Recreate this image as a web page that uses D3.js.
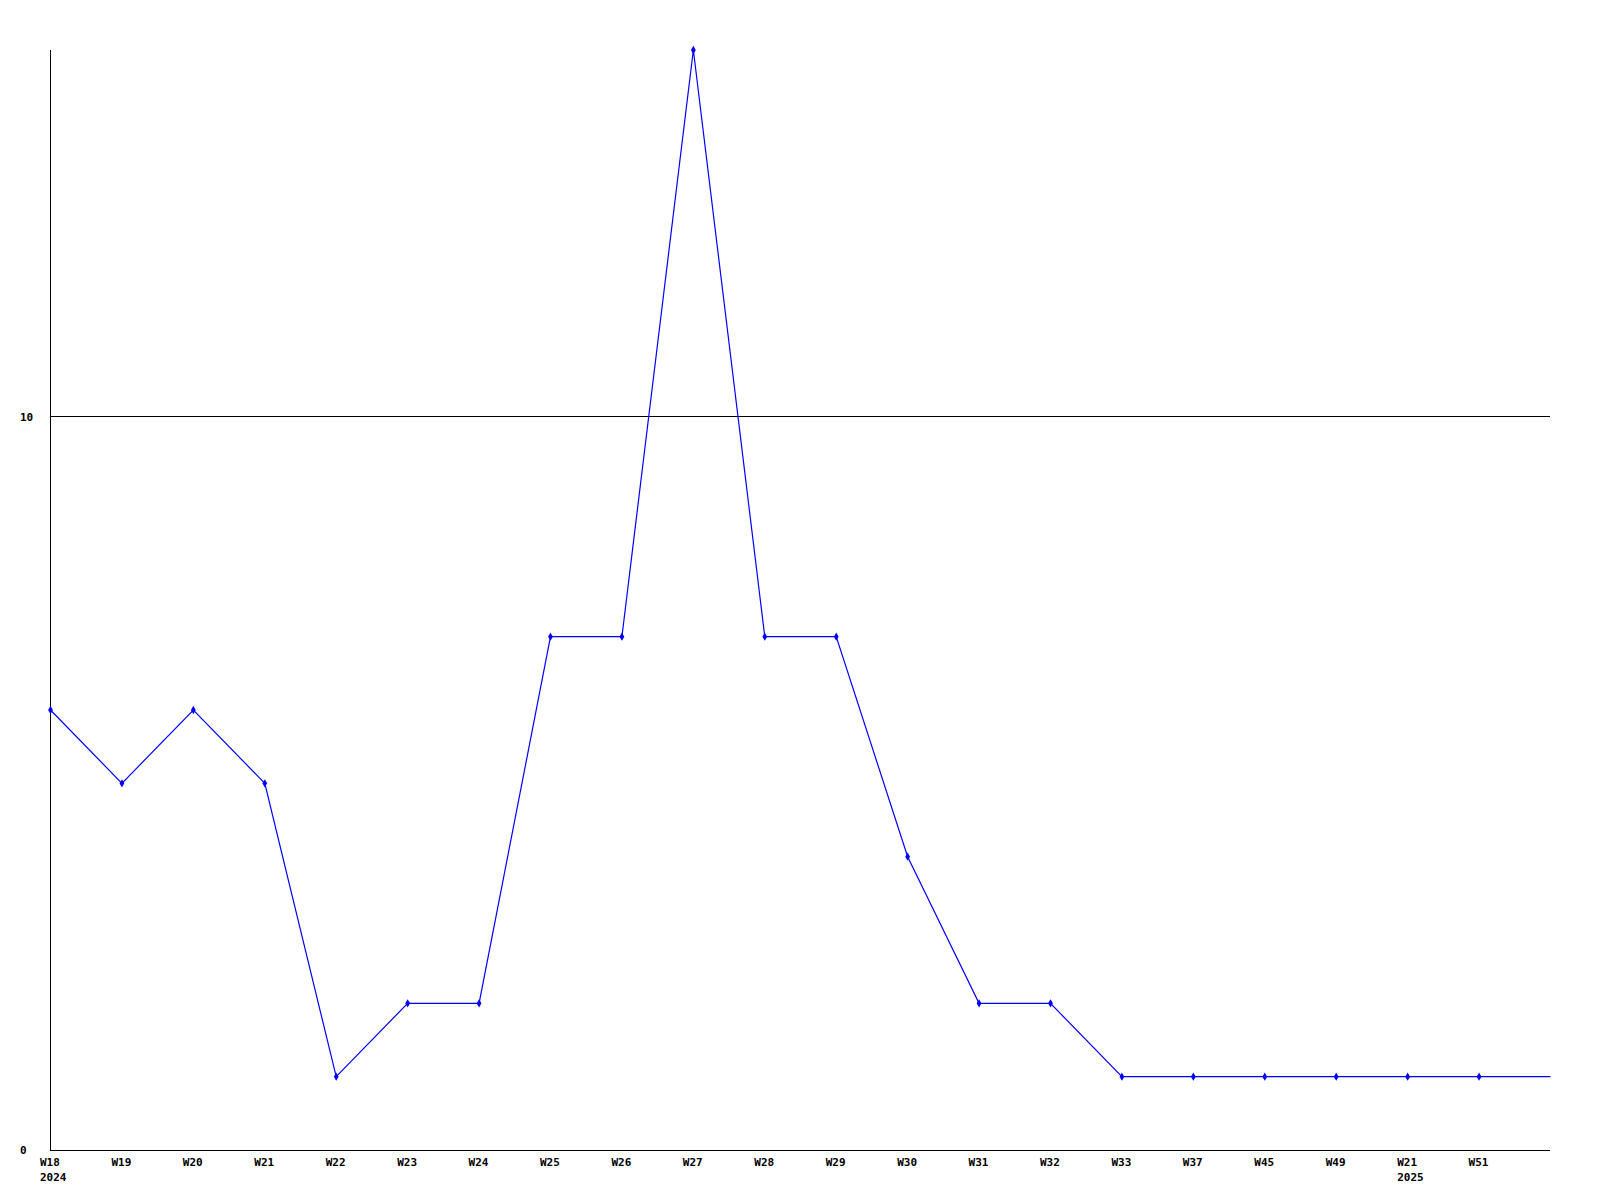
<!DOCTYPE html>
<html>
<head>
<meta charset="utf-8">
<script src="https://cdn.jsdelivr.net/npm/d3@7"></script>
<style>
  html, body { margin: 0; padding: 0; background: #fff; }
  svg { display: block; }
  text { font-family: "DejaVu Sans Mono", "Liberation Mono", monospace; font-weight: bold; font-size: 11px; fill: #000; }
</style>
</head>
<body>
<svg id="chart" width="1600" height="1200"></svg>
<script>
// Data
const weekLabels = ["W18","W19","W20","W21","W22","W23","W24","W25","W26","W27","W28","W29","W30","W31","W32","W33","W37","W45","W49","W21","W51"];
const yearLabels = ["2024","","","","","","","","","","","","","","","","","","","2025",""];
const values = [6,5,6,5,1,2,2,7,7,15,7,7,4,2,2,1,1,1,1,1,1];
const yTicks = [0, 10];

const svg = d3.select("#chart");
const mLeft = 50, mRight = 1550, mTop = 50, mBottom = 1150;

// 22 slots: the line continues to the right edge with the last value
const x = d3.scalePoint().domain(d3.range(values.length + 1)).range([mLeft, mRight]);
const y = d3.scaleLinear().domain([0, 15]).range([mBottom, mTop]);

// gridline at 10
svg.append("g").selectAll("line").data(yTicks.filter(d => d !== 0)).join("line")
  .attr("x1", mLeft).attr("x2", mRight)
  .attr("y1", d => Math.round(y(d)) - 0.5).attr("y2", d => Math.round(y(d)) - 0.5)
  .attr("stroke", "#000").attr("stroke-width", 1).attr("shape-rendering", "crispEdges");

// axes
svg.append("line").attr("x1", mLeft + 0.5).attr("x2", mLeft + 0.5).attr("y1", mTop).attr("y2", mBottom + 0.5)
  .attr("stroke", "#000").attr("stroke-width", 1).attr("shape-rendering", "crispEdges");
svg.append("line").attr("x1", mLeft).attr("x2", mRight).attr("y1", mBottom + 0.5).attr("y2", mBottom + 0.5)
  .attr("stroke", "#000").attr("stroke-width", 1).attr("shape-rendering", "crispEdges");

// y tick labels
svg.append("g").selectAll("text").data(yTicks).join("text")
  .attr("x", 20).attr("y", d => y(d) + 4)
  .text(d => d);

// x labels
svg.append("g").selectAll("text").data(weekLabels).join("text")
  .attr("x", (d, i) => x(i) - 10).attr("y", 1166)
  .text(d => d);
svg.append("g").selectAll("text").data(yearLabels).join("text")
  .attr("x", (d, i) => x(i) - 10).attr("y", 1181)
  .text(d => d);

// line
const pts = values.map((v, i) => [x(i), y(v)]);
pts.push([x(values.length), y(values[values.length - 1])]);
svg.append("path").datum(pts)
  .attr("d", d3.line().x(d => d[0] + 0.5).y(d => d[1]))
  .attr("fill", "none").attr("stroke", "#0000ff").attr("stroke-width", 1.2);

// markers
svg.append("g").selectAll("path").data(values).join("path")
  .attr("transform", (d, i) => `translate(${x(i) + 0.5},${y(d)})`)
  .attr("d", d3.symbol().type(d3.symbolDiamond).size(20))
  .attr("fill", "#0000ff");
</script>
</body>
</html>
